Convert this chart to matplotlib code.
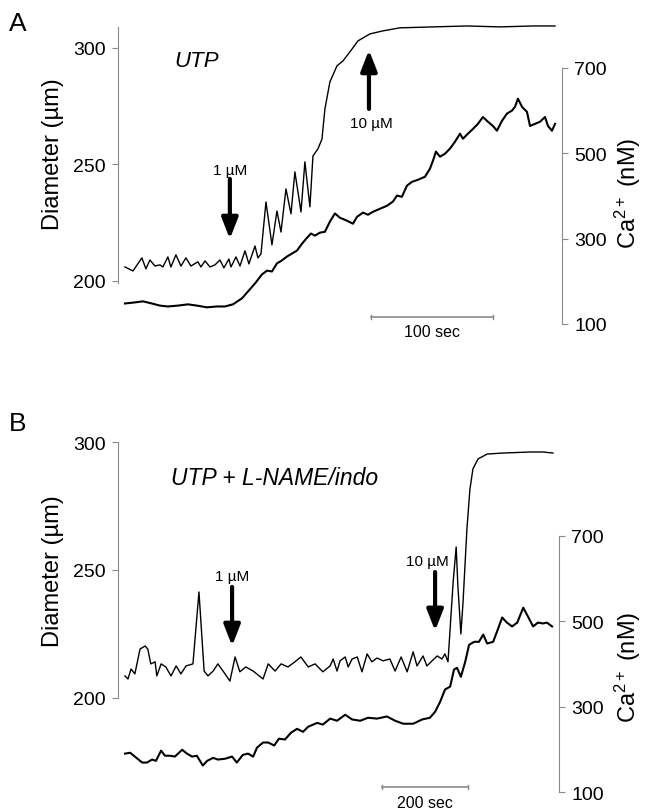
import matplotlib
matplotlib.use("Agg")
import matplotlib.pyplot as plt

plt.rcParams["font.family"] = ["Liberation Sans", "DejaVu Sans"]
plt.rcParams["mathtext.fontset"] = "custom"
plt.rcParams["mathtext.rm"] = "Liberation Sans"
plt.rcParams["mathtext.it"] = "Liberation Sans:italic"

# Panel A - UTP (time in sec, diameter in um, Ca in nM)
a_dia_t = [0, 6.6, 13.9, 17.2, 20.5, 24.6, 28.7, 31.1, 35.2, 37.7, 41.8, 45.9, 50.0, 54.1,
           59.8, 62.3, 65.6, 69.7, 73.8, 77.9, 81.1, 85.2, 86.9, 91.0, 94.3, 98.4, 101.6,
           106.6, 109.0, 111.5, 115.6, 120.5, 124.6, 127.9, 132.0, 136.1, 139.3, 144.3,
           147.5, 151.6, 154.1, 158.2, 161.5, 163.9, 168.0, 173.8, 178.7, 184.4, 191.0,
           200.8, 211.5, 225.4, 252.5, 280.3, 307.4, 334.4, 352.5]
a_dia = [206.0, 204.3, 209.9, 205.2, 209.0, 206.4, 206.9, 206.0, 210.3, 206.0, 211.2, 206.4,
         209.9, 206.4, 208.2, 206.0, 208.6, 206.0, 206.9, 209.0, 205.6, 209.4, 206.0, 210.3,
         206.4, 212.9, 207.3, 215.0, 209.9, 211.6, 233.9, 215.5, 230.0, 221.0, 239.5, 228.8,
         246.8, 229.6, 251.1, 231.8, 253.6, 256.7, 260.9, 273.8, 285.4, 292.3, 294.4, 298.3,
         303.0, 306.0, 307.3, 308.6, 309.0, 309.4, 309.0, 309.4, 309.4]

a_ca_t = [0, 6.6, 14.8, 22.1, 28.7, 35.2, 43.4, 51.6, 59.0, 67.2, 75.4, 82.0, 88.5, 95.9,
          100.8, 106.6, 112.3, 116.4, 120.5, 124.6, 128.7, 132.8, 136.9, 141.0, 145.1, 149.2,
          152.5, 155.7, 159.8, 163.9, 168.0, 172.1, 176.2, 182.0, 186.9, 190.2, 195.1, 199.2,
          203.3, 209.0, 214.8, 219.7, 223.0, 227.0, 231.1, 235.2, 240.2, 245.9, 250.0, 252.5,
          254.9, 258.2, 262.3, 266.4, 270.5, 274.6, 277.0, 281.1, 285.2, 289.3, 293.4, 297.5,
          301.6, 304.9, 309.0, 313.1, 317.2, 319.7, 322.1, 325.4, 329.5, 332.0, 336.1, 340.2,
          344.3, 346.7, 350.0, 352.5]
a_ca = [148, 150, 153, 148, 143, 141, 143, 146, 143, 139, 141, 141, 146, 160, 176, 195, 216,
        225, 223, 242, 249, 258, 265, 272, 288, 302, 312, 307, 314, 316, 340, 359, 349, 342,
        335, 351, 361, 356, 363, 370, 377, 387, 401, 398, 424, 433, 438, 445, 464, 483, 504,
        492, 499, 511, 527, 546, 534, 546, 557, 569, 585, 574, 564, 553, 576, 593, 600, 609,
        628, 609, 597, 564, 569, 574, 585, 564, 553, 569]

# Panel B - UTP + L-NAME/indo
b_dia_t = [0, 7, 14, 23, 35, 47, 53, 60, 70, 74, 84, 95, 107, 119, 130, 142, 158, 172, 184,
           193, 205, 216, 228, 244, 256, 267, 281, 298, 321, 333, 349, 363, 379, 395, 409,
           426, 442, 460, 477, 484, 493, 500, 512, 519, 528, 540, 551, 563, 574, 586, 600,
           616, 628, 642, 656, 670, 679, 693, 702, 714, 726, 737, 744, 751, 763, 770, 774,
           781, 786, 795, 802, 809, 821, 842, 879, 942, 972, 995]
b_dia = [208.6, 207.4, 211.3, 209.4, 219.1, 220.3, 219.1, 213.3, 214.1, 208.6, 213.3, 212.1,
         208.6, 212.5, 209.4, 212.5, 213.3, 241.4, 210.5, 208.6, 210.5, 213.3, 210.5, 206.6,
         216.0, 210.2, 212.1, 210.5, 207.4, 213.3, 210.5, 213.3, 212.1, 214.1, 216.0, 212.1,
         213.3, 210.2, 212.5, 215.2, 210.5, 214.5, 216.0, 212.1, 215.2, 216.0, 210.2, 217.2,
         214.1, 215.6, 214.5, 215.2, 210.5, 216.0, 210.2, 218.0, 212.5, 216.4, 212.5, 214.5,
         216.4, 215.2, 217.2, 214.1, 245.3, 259.0, 243.8, 225.0, 237.5, 266.0, 281.6, 289.5,
         293.4, 295.3, 295.7, 296.1, 296.1, 295.7]

b_ca_t = [0, 12, 23, 40, 51, 63, 72, 84, 93, 105, 116, 133, 144, 156, 167, 181, 191, 205,
          216, 233, 249, 260, 274, 286, 298, 307, 321, 333, 347, 358, 372, 386, 400, 414, 426,
          447, 460, 477, 493, 512, 528, 547, 565, 586, 609, 628, 647, 670, 691, 709, 721, 733,
          744, 756, 765, 772, 781, 791, 800, 812, 823, 833, 842, 856, 865, 877, 888, 900, 912,
          926, 937, 949, 960, 972, 981, 993]
b_ca = [190, 192, 183, 169, 169, 176, 173, 197, 185, 185, 183, 199, 190, 183, 185, 162, 173,
        180, 176, 178, 183, 169, 187, 190, 183, 204, 216, 216, 209, 225, 223, 239, 248, 241,
        253, 262, 258, 272, 267, 281, 270, 267, 274, 272, 277, 267, 260, 260, 270, 274, 288,
        312, 340, 347, 387, 391, 370, 405, 445, 452, 452, 469, 448, 452, 476, 509, 497, 488,
        497, 532, 511, 488, 497, 495, 497, 488]

GRAY = "#8a8a8a"

fig = plt.figure(figsize=(6.45, 8.12), dpi=100)


def make_panel(rect, xlim, dlim, dbounds, clim):
    ax = fig.add_axes(rect)
    ax2 = ax.twinx()
    for a in (ax, ax2):
        a.set_xlim(*xlim)
        a.set_xticks([])
        a.patch.set_visible(False)
        for s in ("top", "bottom"):
            a.spines[s].set_visible(False)
    ax.spines["right"].set_visible(False)
    ax2.spines["left"].set_visible(False)
    ax.set_ylim(*dlim)
    ax2.set_ylim(*clim)
    ax.spines["left"].set_bounds(*dbounds)
    ax2.spines["right"].set_bounds(100, 700)
    ax.spines["left"].set_color(GRAY)
    ax2.spines["right"].set_color(GRAY)
    ax.spines["left"].set_linewidth(0.8)
    ax2.spines["right"].set_linewidth(0.8)
    ax.set_yticks([200, 250, 300])
    ax2.set_yticks([100, 300, 500, 700])
    ax.tick_params(axis="y", length=4, width=0.8, color=GRAY, labelsize=14, pad=5)
    ax2.tick_params(axis="y", length=4, width=0.8, color=GRAY, labelsize=14, pad=5)
    return ax, ax2


def arrow(ax, x, y_tail, y_head):
    ax.annotate("", xy=(x, y_head), xytext=(x, y_tail),
                arrowprops=dict(arrowstyle="-|>,head_width=0.35,head_length=0.9",
                                lw=3, color="k", mutation_scale=14, shrinkA=0, shrinkB=0))


def scale_bar(ax, x0, length, y, label, ytext):
    ax.plot([x0, x0 + length], [y, y], color=GRAY, lw=1.2, clip_on=False)
    ax.plot([x0, x0], [y - 0.9, y + 0.9], color=GRAY, lw=1.0, clip_on=False)
    ax.plot([x0 + length, x0 + length], [y - 0.9, y + 0.9], color=GRAY, lw=1.0, clip_on=False)
    ax.text(x0 + length / 2, ytext, label, ha="center", va="center", fontsize=11.5,
            clip_on=False)


# ---- Panel A
axA, axA2 = make_panel([0.1829, 0.5813, 0.6884, 0.3941], (-5.7, 358.2),
                       (175.1, 312.4), (199, 309), (64.8, 814.8))
axA.plot(a_dia_t, a_dia, color="k", lw=1.0)
axA2.plot(a_ca_t, a_ca, color="k", lw=1.5)
axA.text(59, 294.4, "UTP", style="italic", fontsize=16, ha="center", va="center")
arrow(axA, 86, 243.8, 218)
axA.text(86, 247.6, "1 \u00b5M", fontsize=11, ha="center", va="center")
arrow(axA, 200, 273.8, 299.1)
axA.text(202, 267.8, "10 \u00b5M", fontsize=11, ha="center", va="center")
scale_bar(axA, 202, 100, 184.5, "100 sec", 178.1)

# ---- Panel B
axB, axB2 = make_panel([0.1829, 0.01478, 0.6837, 0.4557], (-16.3, 1009),
                       (160.5, 305.1), (200, 300), (83.6, 950.8))
axB.plot(b_dia_t, b_dia, color="k", lw=1.0)
axB2.plot(b_ca_t, b_ca, color="k", lw=1.5)
axB.text(347, 286.3, "UTP + L-NAME/indo", style="italic", fontsize=16.5,
         ha="center", va="center")
arrow(axB, 249, 243.4, 220.3)
axB.text(249, 247.7, "1 \u00b5M", fontsize=11, ha="center", va="center")
arrow(axB, 721, 249.2, 226.2)
axB.text(702, 253.5, "10 \u00b5M", fontsize=11, ha="center", va="center")
scale_bar(axB, 598, 200, 165.2, "200 sec", 159.0)

# ---- labels in figure coordinates
W, H = 645, 812
for lab, yc_l, yc_r, yp in (("A", 154, 193, 24), ("B", 571, 667, 424)):
    fig.text(18 / W, 1 - yp / H, lab, fontsize=19, ha="center", va="center")
    fig.text(53 / W, 1 - yc_l / H, "Diameter (\u00b5m)", rotation=90, fontsize=17,
             ha="center", va="center")
    fig.text(628 / W, 1 - yc_r / H, "Ca$^{2+}$ (nM)", rotation=90, fontsize=17,
             ha="center", va="center")

fig.savefig("out.png", dpi=100)
